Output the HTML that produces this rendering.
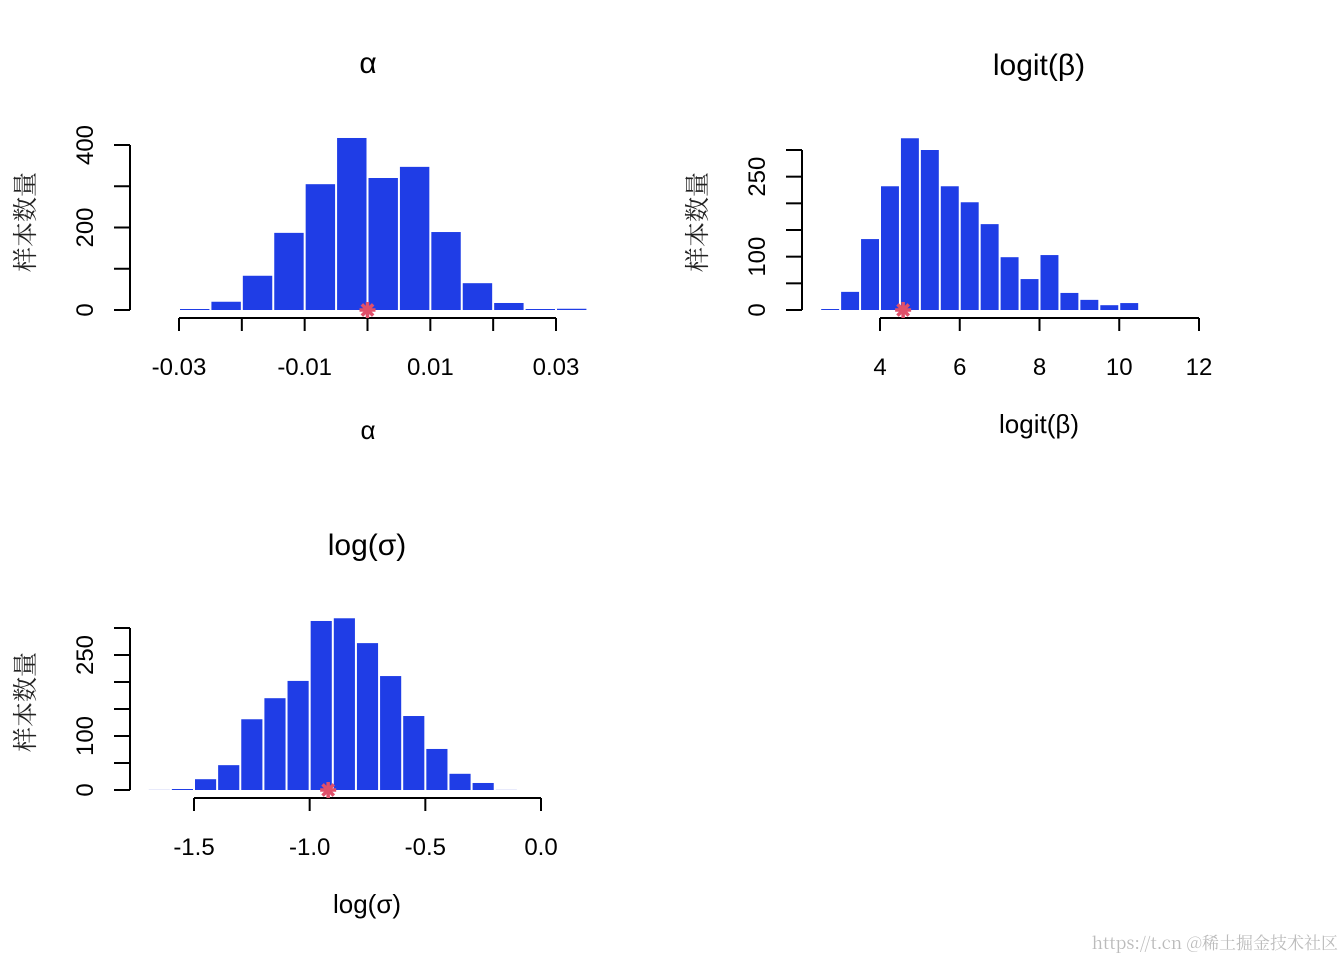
<!DOCTYPE html>
<html><head><meta charset="utf-8"><style>
html,body{margin:0;padding:0;background:#fff}
svg{display:block;font-family:"Liberation Sans","Noto Sans CJK SC",sans-serif}
</style></head><body>
<svg id="c" width="1344" height="960" viewBox="0 0 1344 960" xmlns="http://www.w3.org/2000/svg">
<rect width="1344" height="960" fill="#fff"/>
<text x="1338" y="949" text-anchor="end" font-size="17" fill="#bbb" font-family="'Noto Serif CJK SC',serif">https://t.cn @稀土掘金技术社区</text>
</svg>
<script>
// Panel 1: alpha
const alphaBreaks0 = -0.03, alphaBin = 0.005;
const alphaCounts = [1,20,83,187,305,417,320,347,189,65,17,2,3];
const alphaXTicks = [-0.03,-0.02,-0.01,0,0.01,0.02,0.03];
const alphaXLabels = ["-0.03","","-0.01","","0.01","","0.03"];
const alphaYTicks = [0,100,200,300,400];
const alphaYLabels = ["0","","200","","400"];
const alphaTrue = 0;
// Panel 2: logit(beta)
const betaBreaks0 = 2.5, betaBin = 0.5;
const betaCounts = [1,34,133,232,322,300,232,202,161,99,58,103,32,19,9,13];
const betaXTicks = [4,6,8,10,12];
const betaXLabels = ["4","6","8","10","12"];
const betaYTicks = [0,50,100,150,200,250,300];
const betaYLabels = ["0","","100","","","250",""];
const betaTrue = 4.58;
// Panel 3: log(sigma)
const sigBreaks0 = -1.7, sigBin = 0.1;
const sigCounts = [0,1,20,46,131,170,202,313,318,272,211,137,76,30,13,0];
const sigXTicks = [-1.5,-1.0,-0.5,0.0];
const sigXLabels = ["-1.5","-1.0","-0.5","0.0"];
const sigYTicks = [0,50,100,150,200,250,300];
const sigYLabels = ["0","","100","","","250",""];
const sigTrue = -0.92;

const svg = document.getElementById('c');
const NS = 'http://www.w3.org/2000/svg';
function mk(tag, attrs, parent){const e=document.createElementNS(NS,tag);for(const k in attrs)e.setAttribute(k,attrs[k]);(parent||svg).appendChild(e);return e;}

function panel(cfg){
  const g = mk('g',{});
  
  
  const sx = v => cfg.x0px + (v - cfg.x0v) * cfg.xs;
  const sy = v => cfg.y0px - v * cfg.ys;
  // bars
  cfg.counts.forEach((c,i)=>{
    const a = cfg.b0 + i*cfg.bin, b = a + cfg.bin;
    const h = Math.max(c*cfg.ys, c>0?1:0.6);
    const r = mk('rect',{x:sx(a)+1,y:sy(0)-h,width:sx(b)-sx(a)-2,height:h,fill:c>0?'#1f3de6':'#d8dcf8'},g);
    
    
  });
  // x axis
  const xa = mk('g',{},g);
  
  
  const xt = cfg.xticks;
  const ay = cfg.y0px + 8;
  mk('line',{x1:sx(xt[0]),x2:sx(xt[xt.length-1]),y1:ay,y2:ay,stroke:'#000','stroke-width':2},xa);
  xt.forEach((t,i)=>{
    mk('line',{x1:sx(t),x2:sx(t),y1:ay,y2:ay+13,stroke:'#000','stroke-width':2},xa);
    if(cfg.xlabels[i]){const tx=mk('text',{x:sx(t),y:ay+57,'text-anchor':'middle','font-size':24},xa);tx.textContent=cfg.xlabels[i];
    
    }
  });
  // y axis
  const ya = mk('g',{},g);
  
  
  const yt = cfg.yticks, axx = cfg.yaxisX;
  mk('line',{x1:axx,x2:axx,y1:sy(yt[0]),y2:sy(yt[yt.length-1]),stroke:'#000','stroke-width':2},ya);
  yt.forEach((t,i)=>{
    mk('line',{x1:axx-16,x2:axx,y1:sy(t),y2:sy(t),stroke:'#000','stroke-width':2},ya);
    if(cfg.ylabels[i]){const tx=mk('text',{x:0,y:0,'text-anchor':'middle','font-size':24,transform:`translate(${axx-37},${sy(t)}) rotate(-90)`},ya);tx.textContent=cfg.ylabels[i];
    
    }
  });
  const yl = mk('text',{x:0,y:0,'text-anchor':'middle','font-size':25,transform:`translate(${axx-96},${cfg.y0px-88}) rotate(-90)`,'font-family':"'Noto Serif CJK SC',serif",fill:'#222'},g);
  yl.textContent='样本数量';
  
  
  // true value marker
  const mx = sx(cfg.truev), my = sy(0);
  const st = mk('g',{stroke:'#e0506a','stroke-width':3.5},g);
  
  
  for(let k=0;k<4;k++){const a=k*Math.PI/4;mk('line',{x1:mx-8*Math.cos(a),y1:my-8*Math.sin(a),x2:mx+8*Math.cos(a),y2:my+8*Math.sin(a)},st);}
  // titles
  const ti = mk('text',{x:cfg.cx,y:cfg.titleY,'text-anchor':'middle','font-size':30},g);
  ti.textContent = cfg.title;
  
  
  const xl = mk('text',{x:cfg.cx,y:cfg.xlabY,'text-anchor':'middle','font-size':26},g);
  xl.textContent = cfg.title;
  
  
}

panel({name:'alpha-histogram',x0v:-0.03,x0px:179,xs:(556-179)/0.06,y0px:310,ys:(310-145)/400,
  b0:alphaBreaks0,bin:alphaBin,counts:alphaCounts,xticks:alphaXTicks,xlabels:alphaXLabels,
  yticks:alphaYTicks,ylabels:alphaYLabels,yaxisX:130,truev:alphaTrue,title:'α',cx:368,titleY:73,xlabY:439});
panel({name:'logit-beta-histogram',x0v:4,x0px:880,xs:(1199-880)/8,y0px:310,ys:(310-150)/300,
  b0:betaBreaks0,bin:betaBin,counts:betaCounts,xticks:betaXTicks,xlabels:betaXLabels,
  yticks:betaYTicks,ylabels:betaYLabels,yaxisX:802,truev:betaTrue,title:'logit(β)',cx:1039,titleY:75,xlabY:433});
panel({name:'log-sigma-histogram',x0v:-1.5,x0px:194,xs:(541-194)/1.5,y0px:790,ys:(790-628)/300,
  b0:sigBreaks0,bin:sigBin,counts:sigCounts,xticks:sigXTicks,xlabels:sigXLabels,
  yticks:sigYTicks,ylabels:sigYLabels,yaxisX:130,truev:sigTrue,title:'log(σ)',cx:367,titleY:555,xlabY:913});
</script>
</body></html>
